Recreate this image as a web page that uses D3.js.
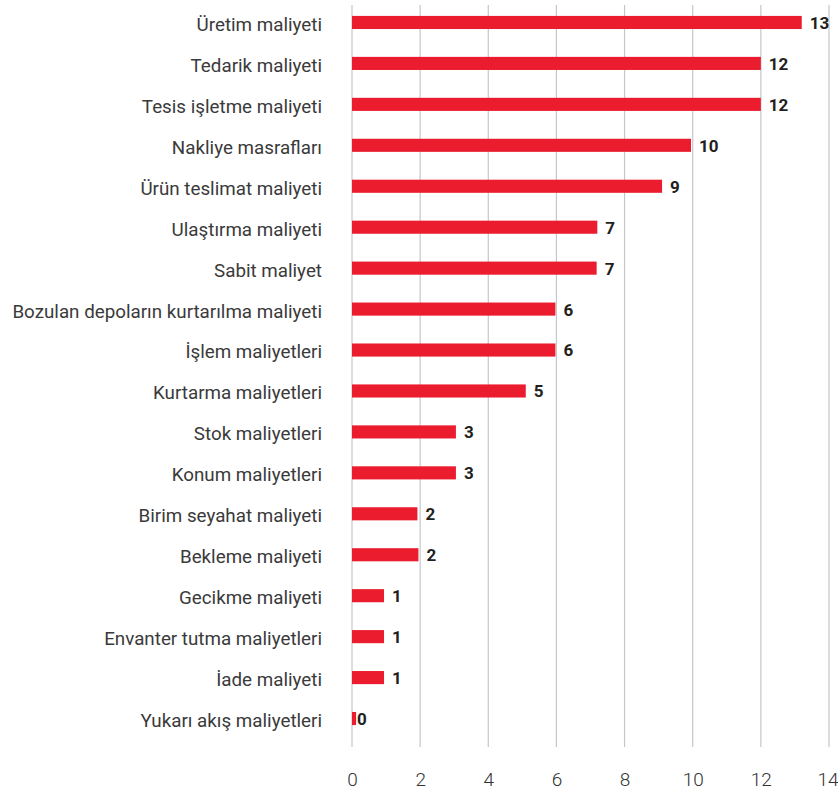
<!DOCTYPE html>
<html>
<head>
<meta charset="utf-8">
<script src="https://cdn.jsdelivr.net/npm/d3@7"></script>
<style>
  body { margin: 0; background: #fff; }
</style>
</head>
<body>
<div id="chart"></div>
<script>
let w = 838;
let h = 794;

// data (top to bottom)
let categories = [
  "Üretim maliyeti",
  "Tedarik maliyeti",
  "Tesis işletme maliyeti",
  "Nakliye masrafları",
  "Ürün teslimat maliyeti",
  "Ulaştırma maliyeti",
  "Sabit maliyet",
  "Bozulan depoların kurtarılma maliyeti",
  "İşlem maliyetleri",
  "Kurtarma maliyetleri",
  "Stok maliyetleri",
  "Konum maliyetleri",
  "Birim seyahat maliyeti",
  "Bekleme maliyeti",
  "Gecikme maliyeti",
  "Envanter tutma maliyetleri",
  "İade maliyeti",
  "Yukarı akış maliyetleri"
];
// bar lengths as drawn
let barValues = [13.2, 12, 12, 9.95, 9.1, 7.2, 7.18, 5.97, 5.97, 5.1, 3.05, 3.05, 1.92, 1.95, 0.94, 0.94, 0.94, 0.12];
// printed labels
let valueLabels = ["13", "12", "12", "10", "9", "7", "7", "6", "6", "5", "3", "3", "2", "2", "1", "1", "1", "0"];
let xTicks = [0, 2, 4, 6, 8, 10, 12, 14];

let data = categories.map((c, i) => ({ cat: c, v: barValues[i], label: valueLabels[i] }));

let svg = d3.select("#chart").append("svg")
  .attr("width", w)
  .attr("height", h)
  .style("font-family", "Roboto, sans-serif");

let xScale = d3.scaleLinear().domain([0, 14]).range([352, 829]);
let yScale = d3.scaleBand().domain(categories).range([2, 739]).paddingInner(0.68).paddingOuter(0.34);

// grid lines
svg.append("g").selectAll("line")
  .data(xTicks)
  .enter()
  .append("line")
    .attr("x1", d => xScale(d))
    .attr("x2", d => xScale(d))
    .attr("y1", 5)
    .attr("y2", 747)
    .attr("stroke", "#c3c7cd")
    .attr("stroke-width", 1.2);

// bars
svg.append("g").selectAll("rect")
  .data(data)
  .enter()
  .append("rect")
    .attr("x", xScale(0))
    .attr("y", d => yScale(d.cat))
    .attr("width", d => xScale(d.v) - xScale(0))
    .attr("height", yScale.bandwidth())
    .attr("fill", "#ea1c2d");

// value labels
svg.append("g").selectAll("text")
  .data(data)
  .enter()
  .append("text")
    .attr("x", d => xScale(d.v) + (d.v < 0.5 ? 1 : 8))
    .attr("y", d => yScale(d.cat) + yScale.bandwidth() / 2)
    .attr("dy", "0.38em")
    .attr("font-size", 17)
    .attr("font-weight", "bold")
    .attr("fill", "#231f20")
    .text(d => d.label);

// category axis
let yAxis = d3.axisLeft(yScale).tickSize(0).tickPadding(0);
let yAxisGroup = svg.append("g")
  .attr("transform", "translate(322, 0)")
  .call(yAxis);
yAxisGroup.select(".domain").remove();
yAxisGroup.selectAll("text")
  .attr("dy", "0.45em")
  .attr("font-size", 18.8)
  .attr("font-family", "Roboto, sans-serif")
  .attr("fill", "#3a3a3a");

// value axis
let xAxis = d3.axisBottom(xScale).tickValues(xTicks).tickSize(0).tickPadding(0);
let xAxisGroup = svg.append("g")
  .attr("transform", "translate(0, 772)")
  .call(xAxis);
xAxisGroup.select(".domain").remove();
xAxisGroup.selectAll("text")
  .attr("font-size", 19)
  .attr("font-family", "Roboto, sans-serif")
  .attr("font-weight", 300)
  .attr("fill", "#333");
// keep the last tick label inside the page
xAxisGroup.selectAll("text")
  .filter(d => d === 14)
  .attr("text-anchor", "end")
  .attr("x", 9);
</script>
</body>
</html>
